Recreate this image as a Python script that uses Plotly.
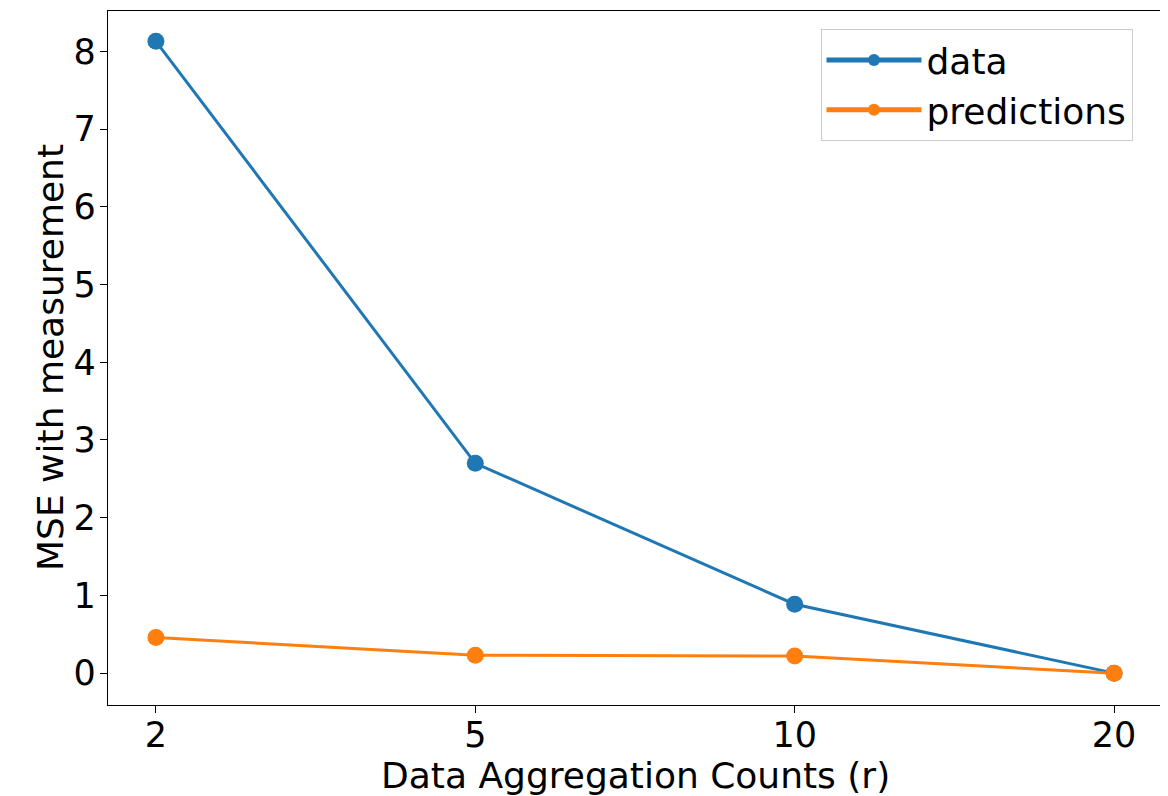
import plotly.graph_objects as go

categories = ["2", "5", "10", "20"]
data_vals = [8.13, 2.70, 0.887, 0.0]
pred_vals = [0.46, 0.23, 0.22, 0.0]

FONT = "DejaVu Sans"
fig = go.Figure()
fig.add_trace(go.Scatter(x=categories, y=data_vals, mode="lines+markers", name="data",
                         line=dict(color="#1f77b4", width=3), marker=dict(size=17, color="#1f77b4")))
fig.add_trace(go.Scatter(x=categories, y=pred_vals, mode="lines+markers", name="predictions",
                         line=dict(color="#ff7f0e", width=3), marker=dict(size=17, color="#ff7f0e")))

fig.update_layout(
    width=1160, height=788,
    margin=dict(l=100, r=6, t=3, b=91),
    plot_bgcolor="white", paper_bgcolor="white",
    font=dict(family=FONT, size=36, color="black"),
    showlegend=True,
    legend=dict(x=0.676, y=0.974, xanchor="left", yanchor="top",
                bordercolor="#cccccc", borderwidth=1, bgcolor="rgba(255,255,255,0.8)",
                font=dict(size=36), itemsizing="constant", itemwidth=95),
    xaxis=dict(type="category", range=[-0.15, 3.15], showline=True, mirror=True, automargin=False,
               linecolor="black", linewidth=1.2, ticks="outside", ticklen=7, tickcolor="black",
               showgrid=False, zeroline=False, tickfont=dict(size=35), ticklabelstandoff=-8),
    yaxis=dict(range=[-0.41, 8.52], tickvals=[0, 1, 2, 3, 4, 5, 6, 7, 8], showline=True, mirror=True,
               automargin=False,
               linecolor="black", linewidth=1.2, ticks="outside", ticklen=7, tickcolor="black",
               showgrid=False, zeroline=False, tickfont=dict(size=35), ticklabelstandoff=-3),
    annotations=[
        dict(text="Data Aggregation Counts (r)", xref="paper", yref="paper", x=0.5, y=-0.102,
             xanchor="center", yanchor="middle", showarrow=False, font=dict(size=36)),
        dict(text="MSE with measurement", xref="paper", yref="paper", x=-0.055, y=0.5,
             xanchor="center", yanchor="middle", textangle=-90, showarrow=False, font=dict(size=36)),
    ],
)
fig.write_html("out.html")
